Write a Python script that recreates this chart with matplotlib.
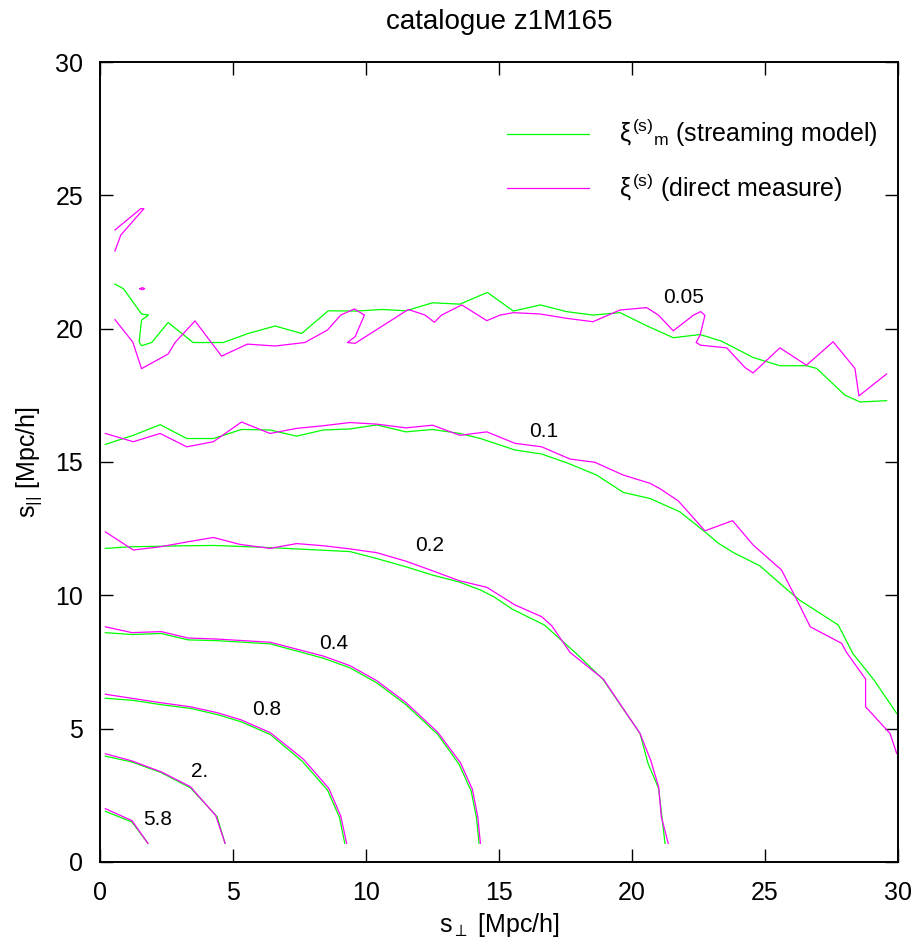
import matplotlib
matplotlib.use("Agg")
import matplotlib.pyplot as plt

plt.rcParams['font.family'] = ['Liberation Sans', 'DejaVu Sans']
plt.rcParams['mathtext.fontset'] = 'custom'
plt.rcParams['mathtext.rm'] = 'Liberation Sans'
plt.rcParams['mathtext.it'] = 'Liberation Sans'
plt.rcParams['mathtext.bf'] = 'Liberation Sans:bold'

GREEN = '#00ff00'
MAGENTA = '#ff00ff'

# contour levels and where their labels sit (s_perp, s_par)
levels = ['5.8', '2.', '0.8', '0.4', '0.2', '0.1', '0.05']
label_x = [2.17, 3.76, 6.28, 8.77, 12.39, 16.67, 21.94]
label_y = [1.60, 3.41, 5.70, 8.20, 11.85, 16.14, 21.15]

# streaming model contours (x = s_perp, y = s_par)
model_58_x = [0.2, 1.2, 1.8]
model_58_y = [1.9, 1.5, 0.7]
model_2_x = [0.2, 1.2, 2.3, 3.4, 4.4, 4.7]
model_2_y = [3.97, 3.75, 3.35, 2.78, 1.70, 0.7]
model_08_x = [0.2, 1.25, 2.3, 3.4, 4.4, 5.3, 6.4, 7.6, 8.55, 9.0, 9.2]
model_08_y = [6.14, 6.06, 5.9, 5.76, 5.53, 5.26, 4.78, 3.78, 2.7, 1.68, 0.7]
model_04_x = [0.2, 1.2, 2.3, 3.3, 4.4, 6.4, 8.4, 9.4, 10.4, 11.5, 12.7, 13.5, 13.95, 14.15, 14.25]
model_04_y = [8.6, 8.53, 8.57, 8.33, 8.3, 8.18, 7.64, 7.28, 6.72, 5.9, 4.78, 3.66, 2.67, 1.68, 0.7]
model_02_x = [0.2, 1.1, 3.3, 4.3, 6.4, 9.4, 10.4, 11.5, 12.5, 13.5, 14.3, 14.8, 15.5, 16.7,
              17.9, 18.9, 20.3, 20.6, 21.0, 21.24]
model_02_y = [11.76, 11.82, 11.86, 11.87, 11.79, 11.64, 11.38, 11.07, 10.76, 10.5, 10.2, 9.95,
              9.48, 8.89, 7.82, 6.86, 4.82, 3.70, 2.76, 0.7]
model_01_x = [0.2, 1.25, 2.26, 3.26, 4.26, 5.32, 6.39, 7.39, 8.39, 9.4, 10.4, 11.5, 12.5, 13.53,
              14.3, 15.6, 16.6, 17.6, 18.67, 19.67, 20.68, 21.8, 22.74, 23.25, 23.8, 24.8,
              25.88, 26.3, 27.75, 28.3, 29.1, 29.95]
model_01_y = [15.66, 16.0, 16.4, 15.88, 15.88, 16.22, 16.2, 15.97, 16.2, 16.24, 16.39, 16.13,
              16.22, 16.07, 15.88, 15.45, 15.3, 14.95, 14.51, 13.86, 13.63, 13.13, 12.38,
              11.95, 11.61, 11.11, 10.17, 9.82, 8.89, 7.82, 6.82, 5.57]
model_005_x = [0.56, 0.88, 1.56, 1.82, 1.56, 1.47, 1.56, 1.94, 2.56, 3.5, 4.63, 5.57, 6.58,
               7.58, 8.58, 9.65, 10.6, 11.5, 12.5, 13.53, 14.56, 15.54, 16.56, 17.53, 18.53,
               19.55, 20.55, 21.55, 22.56, 23.37, 24.55, 25.56, 26.56, 26.94, 28.0, 28.57, 29.57]
model_005_y = [21.67, 21.5, 20.55, 20.51, 20.32, 19.5, 19.36, 19.48, 20.23, 19.48, 19.48,
               19.82, 20.1, 19.82, 20.67, 20.66, 20.72, 20.67, 20.97, 20.92, 21.36, 20.66,
               20.89, 20.64, 20.51, 20.6, 20.11, 19.66, 19.78, 19.53, 18.92, 18.61, 18.61,
               18.51, 17.51, 17.25, 17.3]

# direct measure contours
meas_58_x = [0.2, 1.2, 1.8]
meas_58_y = [2.0, 1.55, 0.7]
meas_2_x = [0.2, 1.2, 2.3, 3.4, 4.35, 4.7]
meas_2_y = [4.06, 3.79, 3.38, 2.82, 1.74, 0.7]
meas_08_x = [0.2, 1.25, 2.3, 3.4, 4.4, 5.3, 6.4, 7.65, 8.6, 9.05, 9.27]
meas_08_y = [6.29, 6.13, 5.97, 5.82, 5.6, 5.33, 4.85, 3.85, 2.76, 1.72, 0.7]
meas_04_x = [0.2, 1.2, 2.3, 3.3, 4.4, 6.4, 8.4, 9.4, 10.4, 11.5, 12.7, 13.55, 14.0, 14.2, 14.3]
meas_04_y = [8.82, 8.6, 8.64, 8.4, 8.36, 8.24, 7.72, 7.36, 6.8, 5.98, 4.86, 3.72, 2.72, 1.7, 0.7]
meas_02_x = [0.2, 1.25, 2.26, 3.26, 4.26, 5.26, 6.39, 7.39, 8.39, 9.4, 10.4, 11.5, 12.5, 13.5,
             14.54, 15.6, 16.6, 16.98, 17.67, 18.92, 20.3, 20.7, 21.0, 21.1, 21.36]
meas_02_y = [12.38, 11.7, 11.82, 12.0, 12.17, 11.91, 11.76, 11.94, 11.86, 11.74, 11.6, 11.28,
             10.92, 10.55, 10.3, 9.64, 9.2, 8.86, 7.86, 6.86, 4.82, 3.82, 2.82, 1.7, 0.7]
meas_01_x = [0.2, 1.25, 2.26, 3.26, 4.26, 5.32, 6.39, 7.39, 8.39, 9.4, 10.4, 11.5, 12.5, 13.53,
             14.54, 15.6, 16.6, 17.67, 18.6, 19.67, 20.68, 21.05, 21.74, 22.74, 23.78, 24.55,
             25.62, 26.2, 26.7, 27.88, 28.07, 28.78, 28.78, 29.7, 29.95]
meas_01_y = [16.07, 15.76, 16.07, 15.57, 15.76, 16.5, 16.07, 16.26, 16.36, 16.48, 16.42, 16.28,
             16.38, 16.0, 16.13, 15.7, 15.57, 15.11, 14.99, 14.51, 14.2, 14.0, 13.54, 12.42,
             12.8, 11.89, 10.95, 9.82, 8.82, 8.2, 7.85, 6.86, 5.82, 4.82, 4.07]
meas_005_x = [0.56, 1.23, 1.56, 2.56, 2.82, 3.57, 4.57, 5.54, 6.58, 7.7, 8.55, 9.05, 9.56, 9.94,
              9.59, 9.3, 9.59, 11.59, 12.22, 12.57, 12.84, 13.6, 14.54, 15.04, 15.54, 16.54,
              17.53, 18.53, 19.55, 20.55, 20.99, 21.55, 22.3, 22.58, 22.74, 22.56, 22.41, 22.58,
              23.56, 24.25, 24.55, 25.56, 26.56, 27.56, 28.38, 28.53, 29.57]
meas_005_y = [20.34, 19.5, 18.5, 19.05, 19.48, 20.29, 18.97, 19.42, 19.35, 19.48, 19.95, 20.51,
              20.74, 20.51, 19.7, 19.48, 19.45, 20.72, 20.51, 20.24, 20.51, 20.89, 20.3, 20.51,
              20.6, 20.55, 20.39, 20.26, 20.7, 20.79, 20.51, 19.92, 20.5, 20.64, 20.5, 19.76,
              19.48, 19.38, 19.28, 18.54, 18.34, 19.28, 18.63, 19.51, 18.51, 17.48, 18.3]
# extra small pieces of the 0.05 measured contour
meas_005b_x = [0.56, 0.78, 1.65, 1.53, 0.56]
meas_005b_y = [22.91, 23.51, 24.5, 24.5, 23.7]
meas_005c_x = [1.5, 1.59, 1.68, 1.59, 1.5]
meas_005c_y = [21.5, 21.54, 21.5, 21.46, 21.5]

model_curves = [(model_58_x, model_58_y), (model_2_x, model_2_y), (model_08_x, model_08_y),
                (model_04_x, model_04_y), (model_02_x, model_02_y), (model_01_x, model_01_y),
                (model_005_x, model_005_y)]
meas_curves = [(meas_58_x, meas_58_y), (meas_2_x, meas_2_y), (meas_08_x, meas_08_y),
               (meas_04_x, meas_04_y), (meas_02_x, meas_02_y), (meas_01_x, meas_01_y),
               (meas_005_x, meas_005_y), (meas_005b_x, meas_005b_y),
               (meas_005c_x, meas_005c_y)]

fig = plt.figure(figsize=(9.22, 9.51), dpi=100)
ax = fig.add_axes([0.1085, 0.0936, 0.8655, 0.8412])

lw = 0.9
for x, y in model_curves:
    h_model, = ax.plot(x, y, color=GREEN, lw=lw)
for x, y in meas_curves:
    h_meas, = ax.plot(x, y, color=MAGENTA, lw=lw)

for lev, lx, ly in zip(levels, label_x, label_y):
    ax.text(lx, ly, lev, fontsize=15, ha='center', va='center')

ax.set_xlim(0, 30)
ax.set_ylim(0, 30)
ax.set_xticks(range(0, 31, 5))
ax.set_yticks(range(0, 31, 5))
ax.tick_params(direction='in', top=True, right=True, length=9.4, width=1.0,
               labelsize=18, pad=12)
ax.tick_params(axis='x', pad=14)
for sp in ax.spines.values():
    sp.set_linewidth(1.4)

ax.set_xlabel(r'$\mathregular{s_{\perp}}$ [Mpc/h]', fontsize=18, labelpad=4)
ax.set_ylabel(r'$\mathregular{s_{||}}$ [Mpc/h]', fontsize=18, labelpad=8)
ax.set_title('catalogue z1M165', fontsize=20, pad=24)

leg = ax.legend([h_model, h_meas],
                [r'$\xi^{(s)}{}_{\mathregular{m}}$ (streaming model)',
                 r'$\xi^{(s)}$ (direct measure)'],
                loc='upper right', bbox_to_anchor=(0.975, 0.931), frameon=False,
                fontsize=18, handlelength=3.3, handletextpad=1.2, labelspacing=0.9,
                borderpad=0, borderaxespad=0)

fig.savefig('out.png', dpi=100)
